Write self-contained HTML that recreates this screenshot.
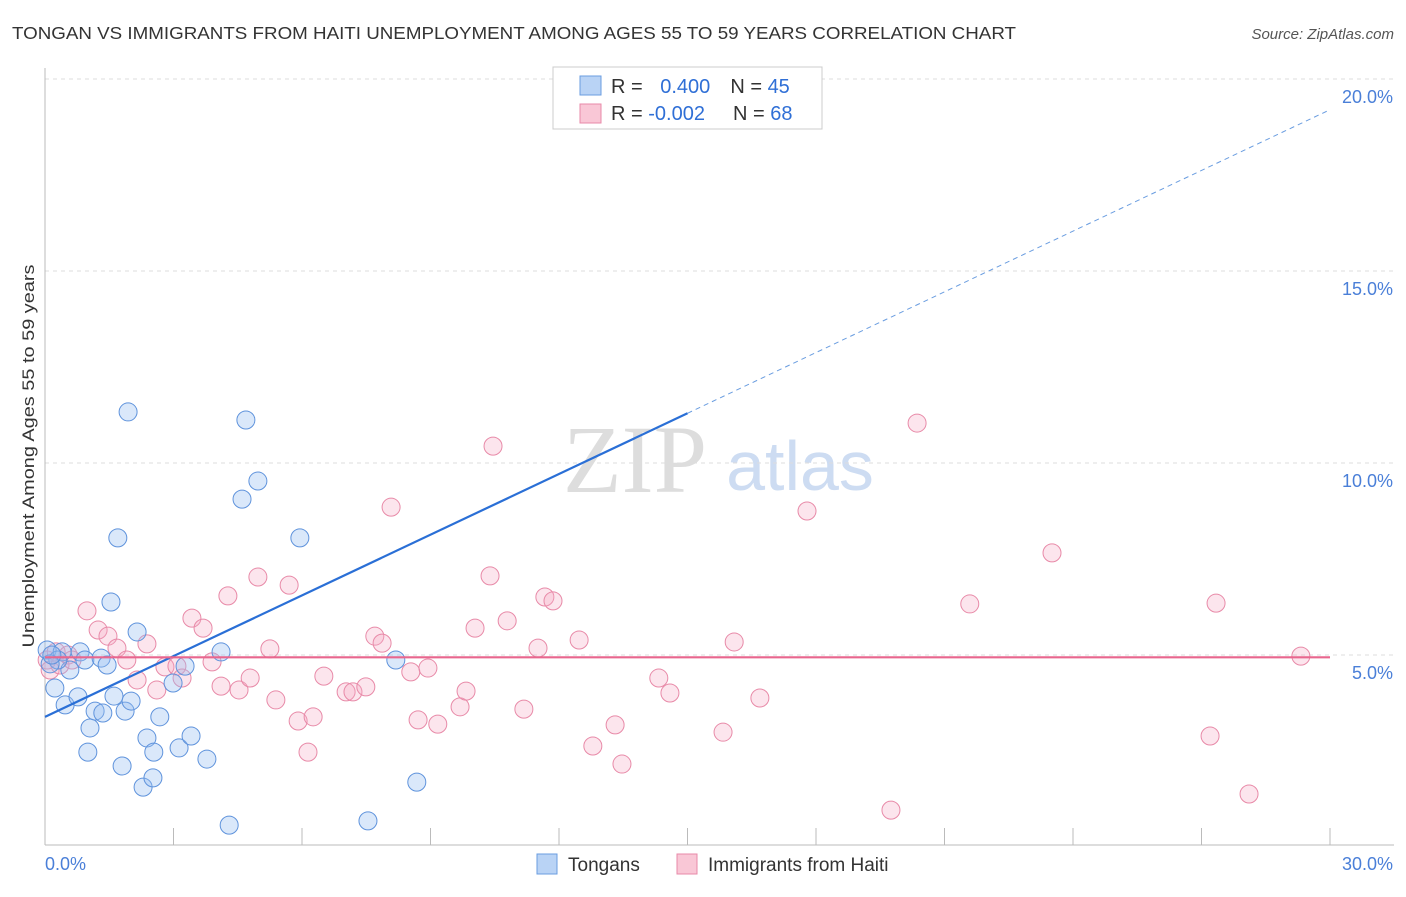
<!DOCTYPE html>
<html><head><meta charset="utf-8"><style>
body{margin:0;background:#fff;font-family:"Liberation Sans",sans-serif}
</style></head><body>
<svg id="c" width="1406" height="892" font-family="Liberation Sans, sans-serif">
<text x="12" y="39" font-size="17.5" fill="#333" textLength="1004" lengthAdjust="spacingAndGlyphs">TONGAN VS IMMIGRANTS FROM HAITI UNEMPLOYMENT AMONG AGES 55 TO 59 YEARS CORRELATION CHART</text>
<text x="1394" y="39" font-size="15" fill="#555" text-anchor="end" font-style="italic">Source: ZipAtlas.com</text>
<text x="34" y="456" font-size="17" fill="#333" text-anchor="middle" textLength="383" lengthAdjust="spacingAndGlyphs" transform="rotate(-90 34 456)">Unemployment Among Ages 55 to 59 years</text>
<text x="635" y="492" font-size="96" fill="#ddd" text-anchor="middle" style="font-family:'Liberation Serif',serif">ZIP</text>
<text x="800" y="490" font-size="70" fill="#cddcf2" text-anchor="middle">atlas</text>
<g id="grid"></g>
<g id="pts"></g>
<g id="lines"></g>
<g>
<rect x="553" y="67" width="269" height="62" fill="#fff" stroke="#ccc"/>
<rect x="580" y="76" width="21" height="19" fill="#b9d3f5" stroke="#6a9de0"/>
<rect x="580" y="104" width="21" height="19" fill="#f9c7d6" stroke="#e88aa8"/>
<text x="611" y="93" font-size="20" fill="#333">R = <tspan fill="#2f6fd6" dx="12">0.400</tspan><tspan dx="20" fill="#333">N = </tspan><tspan fill="#2f6fd6">45</tspan></text>
<text x="611" y="120" font-size="20" fill="#333">R = <tspan fill="#2f6fd6">-0.002</tspan><tspan dx="28" fill="#333">N = </tspan><tspan fill="#2f6fd6">68</tspan></text>
</g>
<g>
<rect x="537" y="854" width="20" height="20" fill="#b9d3f5" stroke="#6a9de0"/>
<text x="568" y="871" font-size="19" fill="#333">Tongans</text>
<rect x="677" y="854" width="20" height="20" fill="#f9c7d6" stroke="#e88aa8"/>
<text x="708" y="871" font-size="19" fill="#333">Immigrants from Haiti</text>
</g>
</svg>
<script>
const yTicks=[5,10,15,20];
const yTickLabels=["5.0%","10.0%","15.0%","20.0%"];
const xTicks=[0,3,6,9,12,15,18,21,24,27,30];
const tonganX=[0.05,0.23,0.47,0.58,0.40,0.82,0.93,0.77,1.05,1.00,1.17,1.35,1.31,1.45,1.61,1.54,1.70,1.80,1.87,1.94,2.01,2.15,2.29,2.38,2.52,2.54,2.68,2.99,3.13,3.27,3.41,3.78,4.11,4.30,4.60,4.69,4.97,5.95,7.54,8.19,8.68,12.30,0.30,0.12,0.16];
const tonganY=[5.13,4.14,3.70,4.61,5.08,5.08,4.87,3.91,3.10,2.47,3.54,3.49,4.92,4.74,3.93,6.38,8.05,2.11,3.54,11.33,3.80,5.60,1.56,2.84,1.80,2.47,3.39,4.27,2.58,4.71,2.89,2.29,5.08,0.57,9.06,11.12,9.53,8.05,0.68,4.87,1.69,20.0,4.87,4.77,5.00];
const haitiX=[0.05,0.12,0.26,0.35,0.54,0.63,0.98,1.24,1.47,1.68,1.91,2.15,2.38,2.61,2.80,3.08,3.20,3.43,3.69,3.90,4.11,4.27,4.53,4.79,4.97,5.25,5.39,5.70,5.91,6.14,6.26,6.51,7.03,7.19,7.49,7.70,7.87,8.08,8.54,8.71,8.94,9.17,9.69,9.83,10.04,10.46,10.39,10.79,11.18,11.51,11.67,11.86,12.47,12.79,13.31,13.47,14.33,14.59,15.83,16.09,16.69,17.79,19.75,20.36,21.59,23.51,27.20,27.34,28.11,29.32];
const haitiY=[4.87,4.61,5.08,4.74,5.00,4.87,6.15,5.65,5.49,5.18,4.87,4.35,5.29,4.09,4.69,4.71,4.40,5.96,5.70,4.82,4.19,6.54,4.09,4.40,7.03,5.16,3.83,6.82,3.28,2.47,3.39,4.45,4.04,4.04,4.17,5.49,5.31,8.85,4.56,3.31,4.66,3.20,3.65,4.06,5.70,10.44,7.06,5.89,3.59,5.18,6.51,6.41,5.39,2.63,3.18,2.16,4.40,4.01,2.99,5.34,3.88,8.75,0.96,11.04,6.33,7.66,2.89,6.35,1.38,4.97];
const tonganFit=[3.39,0.527];
const haitiFit=[4.94,0];
const X0=45,X1=1330,Y0=847,PX=192/5;
const sx=v=>X0+(v/30)*(X1-X0), sy=v=>Y0-v*PX;
const NS="http://www.w3.org/2000/svg";
function mk(t,a,p){const e=document.createElementNS(NS,t);for(const k in a)e.setAttribute(k,a[k]);p.appendChild(e);return e;}
const grid=document.getElementById('grid');
yTicks.forEach((v,i)=>{
 const l=mk('line',{x1:X0,x2:1394,y1:sy(v),y2:sy(v),stroke:'#ddd','stroke-dasharray':'4 4'},grid);
 
 
 const t=mk('text',{x:1393,y:sy(v)+24,'font-size':18,fill:'#4a7fd8','text-anchor':'end'},grid);
 t.textContent=yTickLabels[i];
 
 
});
const ax=mk('line',{x1:X0,x2:X0,y1:68,y2:845,stroke:'#bbb'},grid);


const bx=mk('line',{x1:X0,x2:1394,y1:845,y2:845,stroke:'#bbb'},grid);


xTicks.forEach(v=>{
 const l=mk('line',{x1:sx(v),x2:sx(v),y1:828,y2:845,stroke:'#bbb'},grid);
 
 
});
const xl0=mk('text',{x:45,y:870,'font-size':18,fill:'#4a7fd8'},grid);xl0.textContent='0.0%';


const xl1=mk('text',{x:1393,y:870,'font-size':18,fill:'#4a7fd8','text-anchor':'end'},grid);xl1.textContent='30.0%';


const pts=document.getElementById('pts');
haitiX.forEach((v,i)=>{
 const c=mk('circle',{cx:sx(v),cy:sy(haitiY[i]),r:9,fill:'rgba(244,170,195,0.3)',stroke:'#e88aa8','stroke-width':1},pts);
 
 
});
tonganX.forEach((v,i)=>{
 const c=mk('circle',{cx:sx(v),cy:sy(tonganY[i]),r:9,fill:'rgba(150,190,240,0.35)',stroke:'#5f93dc','stroke-width':1},pts);
 
 
});
const lg=document.getElementById('lines');
const f=(fit,x)=>fit[0]+fit[1]*x;
const t1=mk('line',{x1:sx(0),y1:sy(f(tonganFit,0)),x2:sx(15),y2:sy(f(tonganFit,15)),stroke:'#2a6fd6','stroke-width':2.2},lg);


const t2=mk('line',{x1:sx(15),y1:sy(f(tonganFit,15)),x2:sx(30),y2:sy(f(tonganFit,30)),stroke:'#6a9de0','stroke-width':1,'stroke-dasharray':'5 4'},lg);


const h1=mk('line',{x1:sx(0),y1:sy(f(haitiFit,0)),x2:sx(30),y2:sy(f(haitiFit,30)),stroke:'#e8668e','stroke-width':2.2},lg);


</script>
</body></html>
